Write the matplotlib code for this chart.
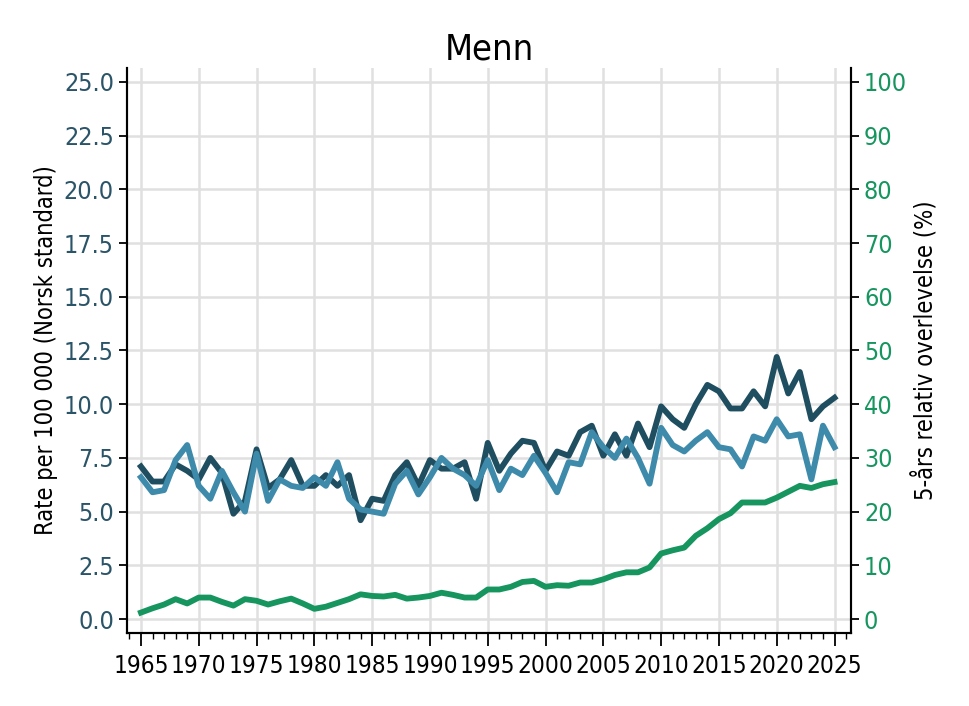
import numpy as np
import matplotlib.pyplot as plt
from matplotlib.ticker import MultipleLocator, FormatStrFormatter

years = np.arange(1965, 2026)

# insidens (rate per 100 000)
incidence = [7.1, 6.4, 6.4, 7.2, 6.9, 6.5, 7.5, 6.8, 4.9, 5.5,
             7.9, 6.1, 6.5, 7.4, 6.2, 6.2, 6.7, 6.2, 6.7, 4.6,
             5.6, 5.5, 6.7, 7.3, 6.2, 7.4, 7.0, 7.0, 7.3, 5.6,
             8.2, 6.9, 7.7, 8.3, 8.2, 6.9, 7.8, 7.6, 8.7, 9.0,
             7.6, 8.6, 7.6, 9.1, 8.0, 9.9, 9.3, 8.9, 10.0, 10.9,
             10.6, 9.8, 9.8, 10.6, 9.9, 12.2, 10.5, 11.5, 9.3, 9.9,
             10.3]

# dødelighet (rate per 100 000)
mortality = [6.6, 5.9, 6.0, 7.4, 8.1, 6.2, 5.6, 6.9, 5.9, 5.0,
             7.7, 5.5, 6.5, 6.2, 6.1, 6.6, 6.2, 7.3, 5.6, 5.1,
             5.0, 4.9, 6.3, 6.9, 5.8, 6.6, 7.5, 7.0, 6.7, 6.2,
             7.4, 6.0, 7.0, 6.7, 7.6, 6.8, 5.9, 7.3, 7.2, 8.7,
             8.0, 7.5, 8.4, 7.5, 6.3, 8.9, 8.1, 7.8, 8.3, 8.7,
             8.0, 7.9, 7.1, 8.5, 8.3, 9.3, 8.5, 8.6, 6.5, 9.0,
             8.0]

# 5-års relativ overlevelse (%)
survival = [1.2, 2.0, 2.7, 3.7, 2.9, 4.0, 4.0, 3.2, 2.5, 3.7,
            3.4, 2.7, 3.3, 3.8, 2.9, 1.9, 2.3, 3.0, 3.7, 4.6,
            4.3, 4.2, 4.5, 3.8, 4.0, 4.3, 4.9, 4.5, 4.0, 4.0,
            5.5, 5.5, 6.0, 6.9, 7.1, 6.0, 6.3, 6.2, 6.8, 6.8,
            7.4, 8.2, 8.7, 8.7, 9.6, 12.2, 12.8, 13.3, 15.5, 16.9,
            18.6, 19.7, 21.7, 21.7, 21.7, 22.6, 23.7, 24.8, 24.4, 25.1,
            25.5]

dark = "#1f4e60"
light = "#3d8aab"
green = "#16955f"
plt.rcParams["font.family"] = ["DejaVu Sans"]
plt.rcParams["font.stretch"] = "condensed"

fig = plt.figure(figsize=(9.7, 7.06), dpi=100)
ax = fig.add_axes([0.131, 0.1034, 0.746, 0.8003])
ax2 = ax.twinx()

ax.plot(years, incidence, color=dark, lw=4.2, zorder=3)
ax.plot(years, mortality, color=light, lw=4.2, zorder=4)
ax2.plot(years, survival, color=green, lw=4.2, zorder=3)

ax.set_xlim(1963.8, 2026.4)
ax.set_ylim(-0.65, 25.65)
ax2.set_ylim(-2.6, 102.6)

ax.xaxis.set_major_locator(MultipleLocator(5))
ax.xaxis.set_minor_locator(MultipleLocator(1))
ax.yaxis.set_major_locator(MultipleLocator(2.5))
ax.yaxis.set_major_formatter(FormatStrFormatter("%.1f"))
ax2.yaxis.set_major_locator(MultipleLocator(10))

ax.grid(True, color="#e0e0e0", lw=1.8, zorder=0)
ax.set_axisbelow(True)

for a in (ax, ax2):
    a.spines["top"].set_visible(False)
    for s in a.spines.values():
        s.set_linewidth(1.5)

ax.tick_params(axis="x", which="major", length=9, width=1.3, labelsize=17.5, pad=6)
ax.tick_params(axis="x", which="minor", length=4, width=1.0)
ax.tick_params(axis="y", length=6, width=1.3, labelsize=18, labelcolor="#2a5468")
ax2.tick_params(axis="y", length=6, width=1.3, labelsize=18, labelcolor=green)

ax.set_ylabel("Rate per 100 000 (Norsk standard)", fontsize=17)
ax2.set_ylabel("5-års relativ overlevelse (%)", fontsize=17)
ax.set_title("Menn", fontsize=26, pad=6)

fig.savefig("out.png", dpi=100)
